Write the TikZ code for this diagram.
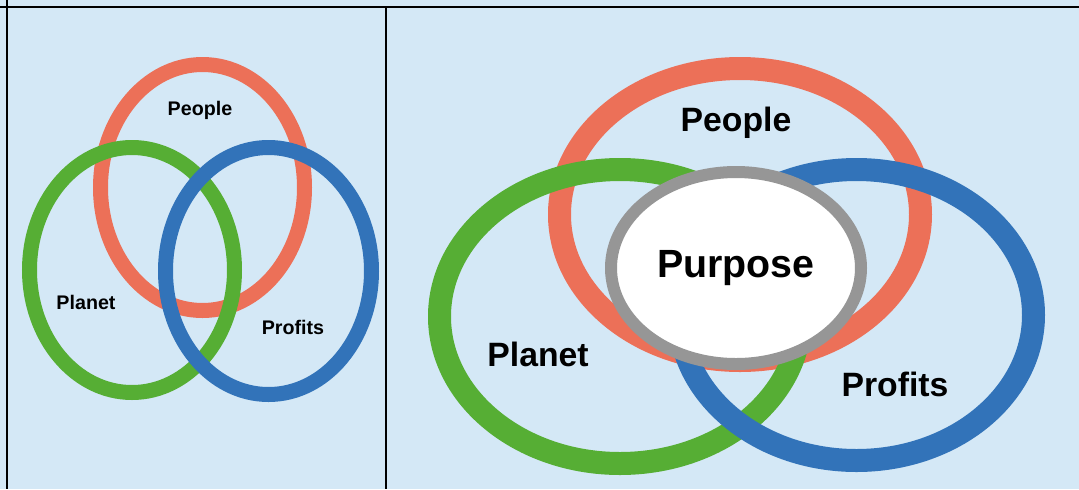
\documentclass[tikz,border=0pt]{standalone}
\usepackage{fontspec}
\setmainfont{Liberation Sans}
\usepackage{tikz}
\usetikzlibrary{shapes.geometric}
\definecolor{panelblue}{RGB}{212,232,246}
\definecolor{peoplered}{RGB}{236,112,88}
\definecolor{planetgreen}{RGB}{86,174,52}
\definecolor{profitblue}{RGB}{50,115,185}
\definecolor{purposegray}{RGB}{150,150,150}

\begin{document}
\begin{tikzpicture}[
    ring/.style={draw, ellipse, inner sep=0pt},
    smallring/.style={ring, line width=0.375cm},
    bigring/.style={ring, line width=0.575cm},
    smalllabel/.style={font=\bfseries\fontsize{14}{16}\selectfont},
    biglabel/.style={font=\bfseries\fontsize{24}{28}\selectfont}
]
    \useasboundingbox (0,0) rectangle (26.975,-12.225);
    \fill[panelblue] (0,0) rectangle (26.975,-12.225);

    % table lines
    \draw[line width=0.05cm] (0,-0.175) -- (26.975,-0.175);
    \draw[line width=0.05cm] (0.175,0) -- (0.175,-12.225);
    \draw[line width=0.05cm] (9.65,-0.175) -- (9.65,-12.225);

    % left panel
    \node[smallring, draw=peoplered, minimum width=5.1cm, minimum height=6.15cm] (peopleS) at (5.0625,-4.6875) {};
    \node[smallring, draw=planetgreen, minimum width=5.125cm, minimum height=6.125cm] (planetS) at (3.3,-6.75) {};
    \node[smallring, draw=profitblue, minimum width=5.15cm, minimum height=6.175cm] (profitsS) at (6.7125,-6.775) {};

    \node[smalllabel] (peopleSlabel) at (5.0,-2.75) {People};
    \node[smalllabel] (planetSlabel) at (2.15,-7.55) {Planet};
    \node[smalllabel] (profitsSlabel) at (7.325,-8.175) {Profits};

    % right panel
    \node[bigring, draw=peoplered, minimum width=9.025cm, minimum height=7.3cm] (peopleB) at (18.5,-5.3625) {};
    \node[bigring, draw=planetgreen, minimum width=9.025cm, minimum height=7.35cm] (planetB) at (15.5,-7.9125) {};
    \node[bigring, draw=profitblue, minimum width=8.85cm, minimum height=7.275cm] (profitsB) at (21.4125,-7.875) {};
    \node[ring, draw=purposegray, fill=white, line width=0.3cm, minimum width=6.25cm, minimum height=4.8cm] (purpose) at (18.4,-6.7) {};

    \node[biglabel] (peopleBlabel) at (18.4,-3.075) {People};
    \node[font=\bfseries\fontsize{28}{32}\selectfont] (purposelabel) at (purpose) {Purpose};
    \node[biglabel] (planetBlabel) at (13.45,-8.85) {Planet};
    \node[biglabel] (profitsBlabel) at (22.375,-9.6) {Profits};
\end{tikzpicture}
\end{document}
